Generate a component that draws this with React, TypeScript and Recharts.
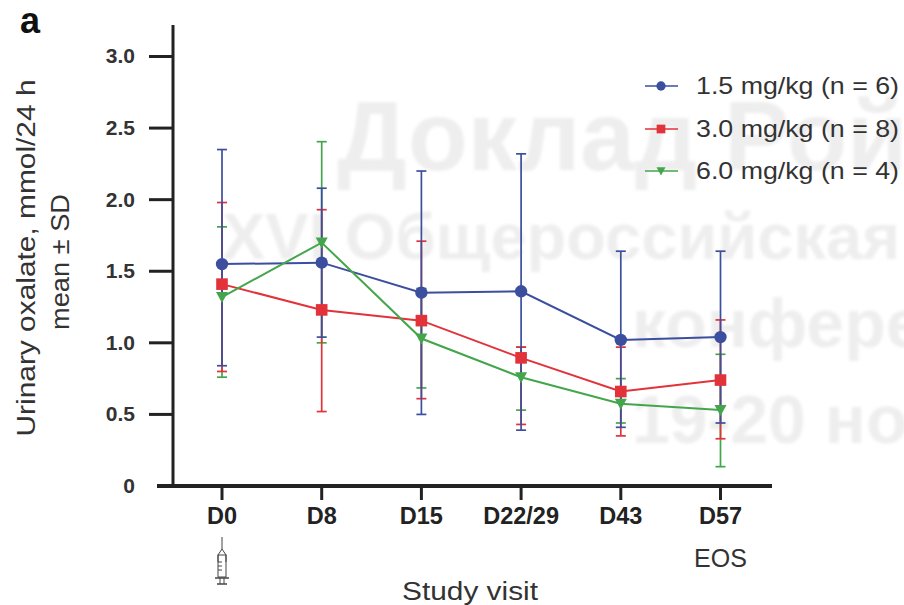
import { ComposedChart, ErrorBar, Legend, Line, XAxis, YAxis } from "recharts";

const visits = ["D0", "D8", "D15", "D22/29", "D43", "D57"];
const yTicks = [0, 0.5, 1, 1.5, 2, 2.5, 3];

const lowMean = [1.55, 1.56, 1.35, 1.36, 1.02, 1.04];
const lowHigh = [2.35, 2.08, 2.2, 2.32, 1.64, 1.64];
const lowLow = [0.84, 1.04, 0.5, 0.39, 0.41, 0.44];

const midMean = [1.41, 1.23, 1.155, 0.895, 0.66, 0.74];
const midHigh = [1.98, 1.93, 1.71, 0.97, 0.97, 1.16];
const midLow = [0.8, 0.52, 0.61, 0.43, 0.35, 0.33];

const topMean = [1.32, 1.7, 1.03, 0.76, 0.575, 0.53];
const topHigh = [1.81, 2.405, 1.38, 0.97, 0.75, 0.92];
const topLow = [0.76, 1.0, 0.685, 0.53, 0.44, 0.135];

const BLUE = "#3b4f9e";
const RED = "#e2323a";
const GREEN = "#44a64c";
const INK = "#222";
const FONT = "'Liberation Sans', Arial, sans-serif";
const AXIS_X = 173;

const data = visits.map((visit, i) => ({
  visit,
  low: lowMean[i],
  lowErr: [lowMean[i] - lowLow[i], lowHigh[i] - lowMean[i]],
  mid: midMean[i],
  midErr: [midMean[i] - midLow[i], midHigh[i] - midMean[i]],
  top: topMean[i],
  topErr: [topMean[i] - topLow[i], topHigh[i] - topMean[i]],
}));

function marker(kind: string, cx: number, cy: number, color: string, s = 1) {
  if (kind === "circle") return <circle cx={cx} cy={cy} r={6.2 * s} fill={color} />;
  if (kind === "square")
    return <rect x={cx - 5.8 * s} y={cy - 5.8 * s} width={11.6 * s} height={11.6 * s} fill={color} />;
  return (
    <polygon
      points={`${cx - 6 * s},${cy - 5 * s} ${cx + 6 * s},${cy - 5 * s} ${cx},${cy + 6 * s}`}
      fill={color}
    />
  );
}

const series = [
  { key: "low", kind: "circle", color: BLUE, label: "1.5 mg/kg (n = 6)", y: 36 },
  { key: "mid", kind: "square", color: RED, label: "3.0 mg/kg (n = 8)", y: 79 },
  { key: "top", kind: "triangle", color: GREEN, label: "6.0 mg/kg (n = 4)", y: 121 },
];

// zero-height box so the legend takes no room away from the plot
function LegendBox() {
  return (
    <div style={{ height: 0 }}>
      <svg width={264} height={150} style={{ display: "block", overflow: "visible" }}>
        {series.map((s) => (
          <g key={s.key}>
            <line x1={5} x2={38} y1={s.y} y2={s.y} stroke={s.color} strokeWidth={1.5} />
            {marker(s.kind, 21, s.y, s.color, 0.75)}
            <text
              x={56}
              y={s.y + 8}
              fontFamily={FONT}
              fontSize={24}
              fill="#333"
              textLength={203}
              lengthAdjust="spacingAndGlyphs"
            >
              {s.label}
            </text>
          </g>
        ))}
      </svg>
    </div>
  );
}

function YTick({ y, payload }: any) {
  const isZero = payload.value === 0;
  return (
    <g>
      {isZero ? (
        <line x1={157} x2={AXIS_X} y1={y} y2={y} stroke={INK} strokeWidth={4} />
      ) : (
        <line x1={149} x2={AXIS_X} y1={y} y2={y} stroke={INK} strokeWidth={3} />
      )}
      <text
        x={135}
        y={y + 7}
        textAnchor="end"
        fontFamily={FONT}
        fontWeight="bold"
        fontSize={21}
        fill="#333"
      >
        {isZero ? "0" : payload.value.toFixed(1)}
      </text>
    </g>
  );
}

function Syringe({ x }: { x: number }) {
  return (
    <g stroke="#444" fill="none" strokeWidth={1}>
      <line x1={x} x2={x} y1={537} y2={549} />
      <path d={`M${x - 4} 562 L${x - 4} 555 L${x} 549 L${x + 4} 555 L${x + 4} 562`} />
      <rect x={x - 4} y={555} width={8} height={22} />
      <line x1={x - 4} x2={x} y1={562} y2={562} />
      <line x1={x - 4} x2={x} y1={566} y2={566} />
      <line x1={x - 4} x2={x} y1={570} y2={570} />
      <line x1={x - 7} x2={x + 7} y1={578} y2={578} strokeWidth={1.5} />
      <line x1={x - 2} x2={x - 2} y1={578} y2={584} />
      <line x1={x + 2} x2={x + 2} y1={578} y2={584} />
      <line x1={x - 5} x2={x + 5} y1={584} y2={584} strokeWidth={1.5} />
    </g>
  );
}

function XTick({ x, payload }: any) {
  return (
    <g>
      <text
        x={x}
        y={524}
        textAnchor="middle"
        fontFamily={FONT}
        fontWeight="bold"
        fontSize={23.5}
        fill="#222"
      >
        {payload.value}
      </text>
      {payload.value === "D0" && <Syringe x={x} />}
      {payload.value === "D57" && (
        <text x={x} y={567} textAnchor="middle" fontFamily={FONT} fontSize={25} fill="#333">
          EOS
        </text>
      )}
    </g>
  );
}

function dotFor(kind: string, color: string) {
  return (props: any) => (
    <g key={`${kind}-${props.index}`}>{marker(kind, props.cx, props.cy, color)}</g>
  );
}

const markWatermark = { fontFamily: FONT, fontWeight: "bold", fill: "#eeeeee" } as const;

export default function App() {
  return (
    <div style={{ position: "absolute", left: 0, top: 0, width: 904, height: 605, background: "#fff" }}>
      <ComposedChart
        width={904}
        height={605}
        data={data}
        margin={{ top: 25, right: 132, bottom: 0, left: 0 }}
      >
        <g style={{ filter: "blur(1.5px)" }}>
          <text x={337} y={170} fontSize={98} {...markWatermark}>Доклад Рой</text>
          <text x={222} y={259} fontSize={65} {...markWatermark}>XVI Общероссийская</text>
          <text x={632} y={347} fontSize={68} {...markWatermark}>конференция</text>
          <text x={632} y={443} fontSize={68} {...markWatermark}>19-20 ноября</text>
        </g>
        <XAxis
          dataKey="visit"
          scale="point"
          padding={{ left: 49, right: 51.5 }}
          height={119}
          interval={0}
          tick={<XTick />}
          tickSize={14}
          axisLine={{ stroke: INK, strokeWidth: 4 }}
          tickLine={{ stroke: INK, strokeWidth: 3 }}
        />
        <YAxis
          width={AXIS_X}
          domain={[0, 3.22]}
          ticks={yTicks}
          interval={0}
          tick={<YTick />}
          tickLine={false}
          axisLine={{ stroke: INK, strokeWidth: 3 }}
        />
        {[...series].reverse().map((s) => (
          <Line
            key={`${s.key}-err`}
            dataKey={s.key}
            stroke="none"
            dot={false}
            activeDot={false}
            legendType="none"
            isAnimationActive={false}
          >
            <ErrorBar dataKey={`${s.key}Err`} direction="y" width={5} strokeWidth={1.7} stroke={s.color} isAnimationActive={false} />
          </Line>
        ))}
        {series.map((s) => (
          <Line
            key={s.key}
            dataKey={s.key}
            stroke={s.color}
            strokeWidth={2}
            dot={dotFor(s.kind, s.color)}
            activeDot={false}
            isAnimationActive={false}
          />
        ))}
        <Legend
          content={() => <LegendBox />}
          wrapperStyle={{ position: "absolute", left: 640, top: 50, width: 264, bottom: "auto" }}
        />
        <text x={20} y={33} fontFamily={FONT} fontWeight="bold" fontSize={36} fill="#111">a</text>
        <text
          x={470}
          y={600}
          textAnchor="middle"
          fontFamily={FONT}
          fontSize={26}
          fill="#333"
          textLength={136}
          lengthAdjust="spacingAndGlyphs"
        >
          Study visit
        </text>
        <text
          transform="translate(35 258) rotate(-90)"
          textAnchor="middle"
          fontFamily={FONT}
          fontSize={26}
          fill="#333"
          textLength={357}
          lengthAdjust="spacingAndGlyphs"
        >
          Urinary oxalate, mmol/24 h
        </text>
        <text
          transform="translate(69 262) rotate(-90)"
          textAnchor="middle"
          fontFamily={FONT}
          fontSize={26}
          fill="#333"
          textLength={136}
          lengthAdjust="spacingAndGlyphs"
        >
          mean ± SD
        </text>
      </ComposedChart>
    </div>
  );
}
